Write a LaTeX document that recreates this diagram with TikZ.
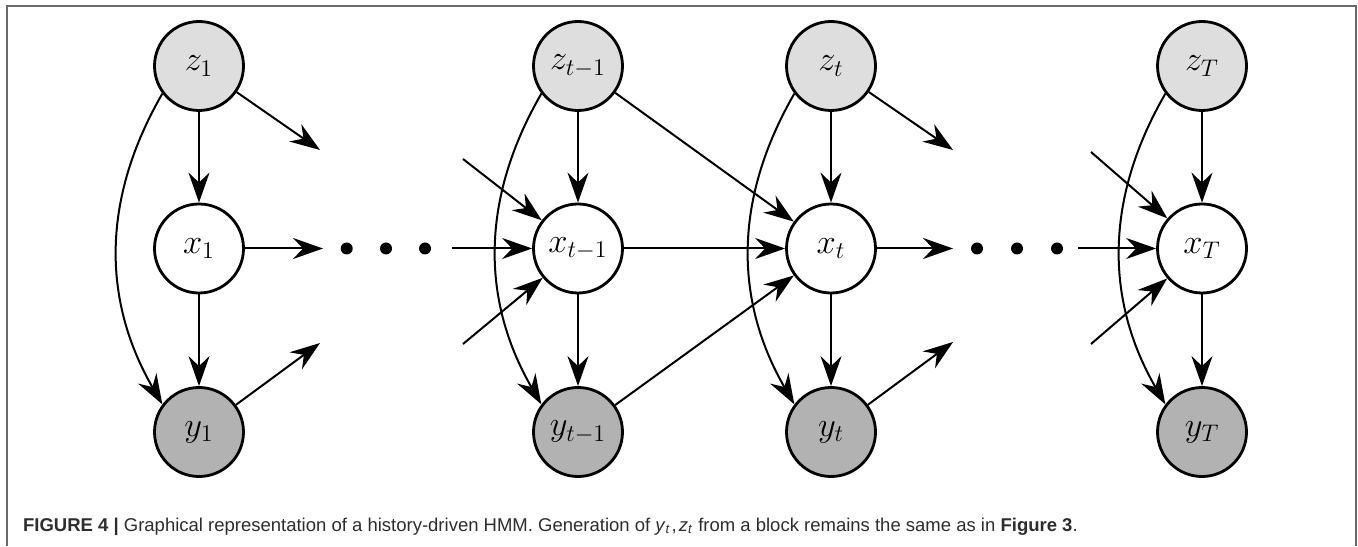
\documentclass[tikz,border=0pt]{standalone}
\usepackage{fontspec}
\setsansfont{Liberation Sans}
\usetikzlibrary{arrows.meta}
\definecolor{zfill}{RGB}{222,222,222}
\definecolor{yfill}{RGB}{178,178,178}
\definecolor{framegray}{RGB}{105,105,105}
\definecolor{captext}{RGB}{45,45,45}
\begin{document}
\begin{tikzpicture}[x=0.5pt,y=0.5pt,
  var/.style={circle,draw=black,line width=1.4pt,minimum size=44.5pt,inner sep=0pt,
    font=\fontsize{16.5}{20}\selectfont},
  zvar/.style={var,fill=zfill},
  xvar/.style={var,fill=white},
  yvar/.style={var,fill=yfill},
  dot/.style={circle,fill=black,minimum size=6pt,inner sep=0pt},
  arr/.style={line width=1pt,-{Stealth[length=15pt,width=10.5pt,inset=5pt]}},
  capt/.style={font=\sffamily\fontsize{9.25}{12}\selectfont,text=captext,anchor=base west,inner sep=0pt}]
\useasboundingbox (0,0) rectangle (1358,546);
\draw[framegray,line width=0.8pt] (7,0) -- (7,540) -- (1356,540) -- (1356,0);
% nodes
\node[zvar] (z1) at (199,480) {$z_1$};
\node[xvar] (x1) at (199,297.5) {$x_1$};
\node[yvar] (y1) at (199,114) {$y_1$};
\node[zvar] (z2) at (578,480) {$z_{t-1}$};
\node[xvar] (x2) at (578,297.5) {$x_{t-1}$};
\node[yvar] (y2) at (578,114) {$y_{t-1}$};
\node[zvar] (z3) at (831,480) {$z_t$};
\node[xvar] (x3) at (831,297.5) {$x_t$};
\node[yvar] (y3) at (831,114) {$y_t$};
\node[zvar] (z4) at (1202,480) {$z_T$};
\node[xvar] (x4) at (1202,297.5) {$x_T$};
\node[yvar] (y4) at (1202,114) {$y_T$};
% dots
\node[dot] (d1) at (346.7,297.5) {};
\node[dot] (d2) at (386,297.5) {};
\node[dot] (d3) at (425,297.5) {};
\node[dot] (d4) at (977,297.5) {};
\node[dot] (d5) at (1017,297.5) {};
\node[dot] (d6) at (1057,297.5) {};
% free ends
\coordinate (a1) at (320,396);
\coordinate (a2) at (320,203);
\coordinate (a3) at (323,297.5);
\coordinate (s4) at (452,297.5);
\coordinate (s5) at (463,387);
\coordinate (s6) at (463,202);
\coordinate (a9) at (953,297.5);
\coordinate (a10) at (953,396);
\coordinate (a11) at (953,204);
\coordinate (s12) at (1078,297.5);
\coordinate (s13) at (1091,394);
\coordinate (s14) at (1091,202);
% block 1
\draw[arr] (z1) -- (x1);
\draw[arr] (x1) -- (y1);
\draw[arr] (z1.-143) to[out=-120,in=120] (y1.143);
\draw[arr] (z1) -- (a1);
\draw[arr] (y1) -- (a2);
\draw[arr] (x1) -- (a3);
% block t-1
\draw[arr] (s4) -- (x2);
\draw[arr] (s5) -- (x2);
\draw[arr] (s6) -- (x2);
\draw[arr] (z2) -- (x2);
\draw[arr] (x2) -- (y2);
\draw[arr] (z2.-143) to[out=-120,in=120] (y2.143);
\draw[arr] (z2) -- (x3);
\draw[arr] (y2) -- (x3);
\draw[arr] (x2) -- (x3);
% block t
\draw[arr] (z3) -- (x3);
\draw[arr] (x3) -- (y3);
\draw[arr] (z3.-143) to[out=-120,in=120] (y3.143);
\draw[arr] (z3) -- (a10);
\draw[arr] (y3) -- (a11);
\draw[arr] (x3) -- (a9);
% block T
\draw[arr] (s12) -- (x4);
\draw[arr] (s13) -- (x4);
\draw[arr] (s14) -- (x4);
\draw[arr] (z4) -- (x4);
\draw[arr] (x4) -- (y4);
\draw[arr] (z4.-143) to[out=-120,in=120] (y4.143);
% caption
\node[capt] (cap) at (22.7,14.3) {\textbf{FIGURE 4 |} Graphical representation of a history-driven HMM. Generation of \textit{y}\textsubscript{\textit{t}}\kern0.5pt,\kern1pt\textit{z}\textsubscript{\textit{t}} from a block remains the same as in \textbf{Figure 3}.};
\end{tikzpicture}
\end{document}
